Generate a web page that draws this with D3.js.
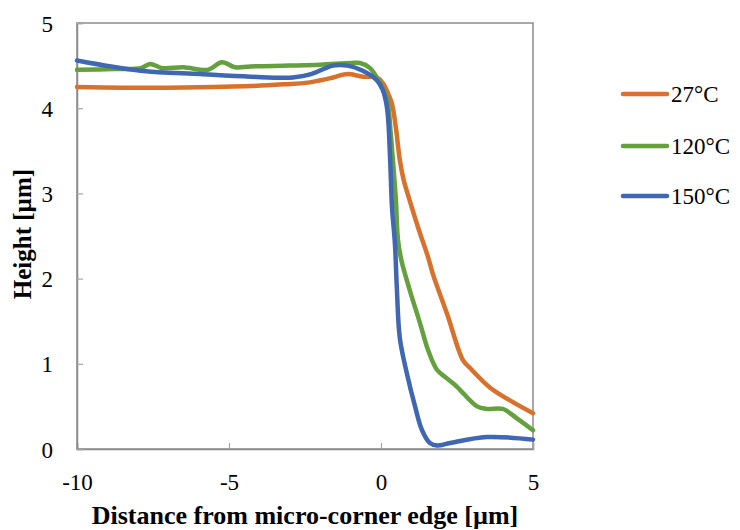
<!DOCTYPE html>
<html>
<head>
<meta charset="utf-8">
<script src="https://cdn.jsdelivr.net/npm/d3@7"></script>
<style>
  body { margin: 0; background: #fff; }
  text { font-family: "Liberation Serif", "Times New Roman", serif; }
</style>
</head>
<body>
<svg id="chart" width="740" height="530"></svg>
<script>
// series
var seriesNames = ["27°C", "120°C", "150°C"];
var seriesColors = ["#d8712c", "#64a03e", "#3f67b2"];

var x27 = [-10, -8.5, -7, -5.5, -4.3, -3.2, -2.4, -1.7, -1.1, -0.6, -0.13, 0.07, 0.2, 0.36, 0.49, 0.62, 0.75, 0.89, 1.22, 1.55, 1.71, 2.17, 2.7, 2.93, 3.59, 4.34, 5];
var y27 = [4.25, 4.24, 4.24, 4.25, 4.26, 4.28, 4.30, 4.35, 4.40, 4.37, 4.36, 4.29, 4.2, 4.05, 3.77, 3.39, 3.15, 2.98, 2.6, 2.25, 2.05, 1.59, 1.04, 0.95, 0.72, 0.55, 0.42];

var x120 = [-10, -8.8, -7.9, -7.6, -7.2, -6.5, -5.7, -5.23, -4.8, -4.3, -3, -2, -1.0, -0.69, -0.36, -0.03, 0.2, 0.32, 0.4, 0.49, 0.56, 0.68, 0.95, 1.28, 1.55, 1.84, 2.2, 2.5, 3.16, 3.49, 4.0, 4.47, 5];
var y120 = [4.45, 4.46, 4.47, 4.52, 4.47, 4.48, 4.45, 4.54, 4.48, 4.49, 4.50, 4.51, 4.53, 4.53, 4.47, 4.29, 4.1, 3.7, 3.35, 2.92, 2.45, 2.2, 1.86, 1.48, 1.16, 0.93, 0.82, 0.73, 0.5, 0.47, 0.47, 0.36, 0.22];

var x150 = [-10, -7.9, -5.95, -4.3, -2.9, -2.3, -1.58, -1.1, -0.6, -0.14, 0.05, 0.2, 0.3, 0.36, 0.46, 0.52, 0.62, 0.85, 1.12, 1.35, 1.61, 1.85, 2.27, 3.48, 5];
var y150 = [4.56, 4.44, 4.40, 4.37, 4.36, 4.40, 4.50, 4.50, 4.44, 4.33, 4.22, 4.0, 3.4, 2.85, 2.4, 1.9, 1.3, 0.89, 0.5, 0.22, 0.07, 0.04, 0.07, 0.14, 0.11];

var xTicks = [-10, -5, 0, 5];
var yTicks = [0, 1, 2, 3, 4, 5];

var seriesX = [x27, x120, x150];
var seriesY = [y27, y120, y150];

var svg = d3.select("#chart");
var padL = 77, padR = 533, padT = 23, padB = 449;

var x = d3.scaleLinear().domain([-10, 5]).range([padL, padR]);
var y = d3.scaleLinear().domain([0, 5]).range([padB, padT]);

// plot frame
svg.append("rect")
    .attr("x", padL).attr("y", padT)
    .attr("width", padR - padL).attr("height", padB - padT)
    .style("fill", "none")
    .style("stroke", "#8c8c8c")
    .style("stroke-width", "1.5px");

// axes, ticks point inward
var xAxis = svg.append("g")
    .attr("transform", "translate(0," + padB + ")")
    .call(d3.axisBottom(x).tickValues(xTicks).tickSize(-6).tickPadding(25).tickFormat(String));
var yAxis = svg.append("g")
    .attr("transform", "translate(" + padL + ",0)")
    .call(d3.axisLeft(y).tickValues(yTicks).tickSize(-6).tickPadding(24).tickFormat(String));

[xAxis, yAxis].forEach(function(g) {
  g.select(".domain").style("stroke", "#8c8c8c").style("stroke-width", "1.5px");
  g.selectAll(".tick line").style("stroke", "#a6a6a6").style("stroke-width", "1.2px");
  g.selectAll(".tick text")
      .style("font-family", "'Liberation Serif', serif")
      .style("font-size", "23px")
      .style("fill", "#000");
});
xAxis.selectAll(".tick text").attr("dy", "0.71em");
yAxis.selectAll(".tick text").attr("dy", "0.35em");

// curves
var line = d3.line()
    .x(function(d) { return x(d[0]); })
    .y(function(d) { return y(d[1]); })
    .curve(d3.curveCatmullRom.alpha(0.5));

seriesNames.forEach(function(name, i) {
  var pts = seriesX[i].map(function(v, j) { return [v, seriesY[i][j]]; });
  svg.append("path")
      .datum(pts)
      .attr("d", line)
      .style("fill", "none")
      .style("stroke", seriesColors[i])
      .style("stroke-width", "4.5px")
      .style("stroke-linejoin", "round")
      .style("stroke-linecap", "round");
});

// legend
var legendY = [94, 146, 196];
seriesNames.forEach(function(name, i) {
  svg.append("line")
      .attr("x1", 623).attr("x2", 667)
      .attr("y1", legendY[i]).attr("y2", legendY[i])
      .style("stroke", seriesColors[i])
      .style("stroke-width", "4.5px")
      .style("stroke-linecap", "round");
  svg.append("text")
      .attr("x", 671).attr("y", legendY[i])
      .attr("dy", "0.35em")
      .style("font-size", "23px")
      .text(name);
});

// axis titles
svg.append("text")
    .attr("x", (padL + padR) / 2)
    .attr("y", 524)
    .attr("text-anchor", "middle")
    .style("font-size", "26px")
    .style("font-weight", "bold")
    .text("Distance from micro-corner edge [µm]");

svg.append("text")
    .attr("transform", "translate(31,234) rotate(-90)")
    .attr("text-anchor", "middle")
    .style("font-size", "25px")
    .style("font-weight", "bold")
    .text("Height [µm]");
</script>
</body>
</html>
